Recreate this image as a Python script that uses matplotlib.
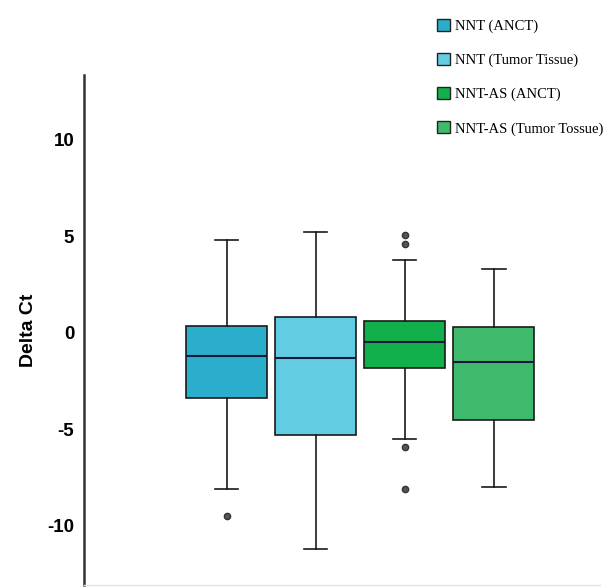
import matplotlib
matplotlib.use("Agg")
import matplotlib.pyplot as plt
from matplotlib.patches import Patch

# Data
labels = ["NNT (ANCT)", "NNT (Tumor Tissue)", "NNT-AS (ANCT)", "NNT-AS (Tumor Tossue)"]
q1 = [-3.35, -5.3, -1.8, -4.5]
medians = [-1.2, -1.3, -0.45, -1.5]
q3 = [0.35, 0.85, 0.6, 0.3]
whis_low = [-8.1, -11.2, -5.5, -8.0]
whis_high = [4.8, 5.25, 3.8, 3.3]
outliers = [[-9.5], [], [5.1, 4.6, -5.9, -8.1], []]
colors = ["#2aaecb", "#62cde2", "#12b04c", "#3fba6c"]
yticks = [-10, -5, 0, 5, 10]

fig = plt.figure(figsize=(6.07, 5.87), dpi=100)
ax = fig.add_axes([0.1384, 0.0034, 0.85, 0.869])

stats = []
for i in range(len(labels)):
    stats.append(dict(med=medians[i], q1=q1[i], q3=q3[i],
                      whislo=whis_low[i], whishi=whis_high[i],
                      fliers=outliers[i], label=labels[i]))

positions = [1, 2, 3, 4]
bp = ax.bxp(stats, positions=positions, widths=0.91, patch_artist=True,
            showfliers=True, capwidths=0.26,
            boxprops=dict(linewidth=1.2, edgecolor="#1a1a1a"),
            medianprops=dict(color="#141838", linewidth=1.5),
            whiskerprops=dict(color="#1a1a1a", linewidth=1.2),
            capprops=dict(color="#1a1a1a", linewidth=1.2),
            flierprops=dict(marker="o", markersize=4.5, markerfacecolor="#555555",
                            markeredgecolor="#333333", markeredgewidth=1.0))
for patch, c in zip(bp["boxes"], colors):
    patch.set_facecolor(c)

ax.set_xlim(-0.6, 5.19)
ax.set_ylim(-13.06, 13.37)
ax.set_xticks([])
ax.set_yticks(yticks)
ax.set_yticklabels([str(t) for t in yticks], fontsize=13.5, fontweight="bold",
                   family="Liberation Sans")
ax.tick_params(axis="y", length=0, pad=7)
ax.set_ylabel("Delta Ct", fontsize=14, fontweight="bold", family="Liberation Sans")
ax.yaxis.set_label_coords(-0.091, 0.5)
for s in ["top", "right"]:
    ax.spines[s].set_visible(False)
ax.spines["left"].set_linewidth(1.8)
ax.spines["left"].set_color("#333333")
ax.spines["bottom"].set_color("#e3e3e3")
ax.spines["bottom"].set_linewidth(1.0)

handles = [Patch(facecolor=c, edgecolor="#222222", linewidth=1.0) for c in colors]
leg = fig.legend(handles, labels, loc="upper left", bbox_to_anchor=(0.699, 0.99),
                 frameon=False, prop=dict(family="Liberation Serif", size=10.5),
                 handlelength=0.85, handleheight=0.85, handletextpad=0.35,
                 labelspacing=1.38)

fig.savefig("out.png", dpi=100)
